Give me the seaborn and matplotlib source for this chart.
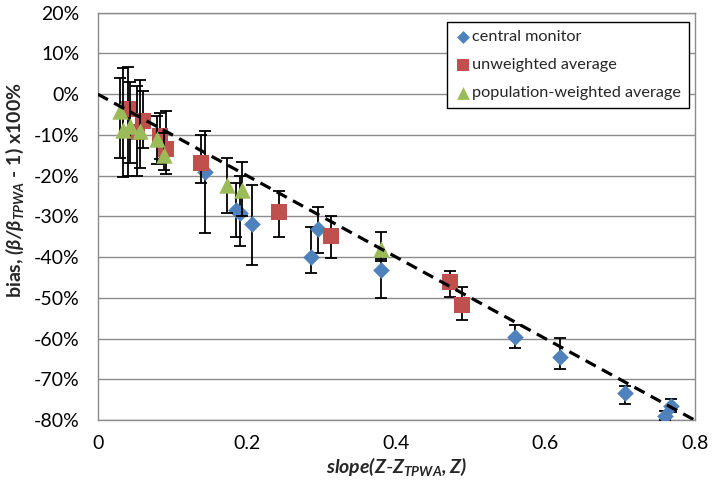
import matplotlib
matplotlib.use("Agg")
import matplotlib.pyplot as plt
import seaborn as sns
import pandas as pd
from matplotlib.ticker import FuncFormatter

# ---- data (percent bias vs slope) ----
series_names = ["central monitor", "unweighted average", "population-weighted average"]

x_cm = [0.144, 0.185, 0.190, 0.206, 0.286, 0.295, 0.379, 0.559, 0.620, 0.707, 0.768, 0.760]
y_cm = [-19.0, -28.4, -29.2, -31.8, -39.9, -33.1, -43.1, -59.5, -64.6, -73.4, -76.5, -78.9]
hi_cm = [-9.1, -21.7, -20.2, -22.2, -32.5, -27.6, -40.5, -56.6, -59.9, -71.5, -74.8, -77.8]
lo_cm = [-34.1, -35.1, -37.2, -41.9, -43.8, -39.0, -50.1, -62.4, -67.5, -76.0, -77.9, -80.0]

x_uw = [0.040, 0.060, 0.052, 0.083, 0.091, 0.138, 0.243, 0.312, 0.472, 0.488]
y_uw = [-3.6, -6.7, -9.3, -10.2, -13.5, -16.9, -28.8, -34.8, -46.0, -51.7]
hi_uw = [6.7, 0.7, 1.9, -4.5, -4.2, -10.0, -23.7, -30.0, -43.5, -47.2]
lo_uw = [-20.0, -13.2, -20.2, -16.0, -19.6, -21.7, -35.1, -40.2, -49.7, -55.4]

x_pw = [0.030, 0.034, 0.043, 0.057, 0.079, 0.089, 0.173, 0.193, 0.380]
y_pw = [-4.2, -8.7, -7.9, -9.1, -10.9, -14.9, -22.2, -23.6, -38.0]
hi_pw = [4.0, 6.4, 2.9, 3.5, -5.3, -9.5, -15.7, -16.7, -33.9]
lo_pw = [-15.7, -20.3, -16.9, -18.0, -17.1, -18.5, -29.2, -30.0, -41.0]

trend_x = [0.0, 0.8]
trend_y = [0.0, -80.0]

y_ticks = [20, 10, 0, -10, -20, -30, -40, -50, -60, -70, -80]
x_ticks = [0, 0.2, 0.4, 0.6, 0.8]
x_ticklabels = ["0", "0.2", "0.4", "0.6", "0.8"]

# ---- style ----
sns.set_theme(style="white")
plt.rcParams["font.family"] = ["Lato", "DejaVu Sans"]
plt.rcParams["mathtext.fontset"] = "custom"
plt.rcParams["mathtext.rm"] = "Lato:bold:italic"
plt.rcParams["mathtext.it"] = "Lato:bold:italic"
plt.rcParams["mathtext.bf"] = "Lato:bold"
plt.rcParams["mathtext.fallback"] = "stixsans"

colors = {"central monitor": "#4F81BD",
          "unweighted average": "#C0504D",
          "population-weighted average": "#9BBB59"}
markers = {"central monitor": "D",
           "unweighted average": "s",
           "population-weighted average": "^"}
sizes = {"central monitor": 72, "unweighted average": 120, "population-weighted average": 140}

frames = []
for name, xs, ys, his, los in [
        ("central monitor", x_cm, y_cm, hi_cm, lo_cm),
        ("unweighted average", x_uw, y_uw, hi_uw, lo_uw),
        ("population-weighted average", x_pw, y_pw, hi_pw, lo_pw)]:
    frames.append(pd.DataFrame({"x": xs, "y": ys, "hi": his, "lo": los, "series": name}))
df = pd.concat(frames, ignore_index=True)

fig = plt.figure(figsize=(7.14, 4.88), dpi=100)
ax = fig.add_axes([0.137, 0.139, 0.836, 0.835])

z = 3
for name in series_names:
    d = df[df.series == name]
    ax.errorbar(d["x"], d["y"],
                yerr=[d["y"] - d["lo"], d["hi"] - d["y"]],
                fmt="none", ecolor="black", elinewidth=1.3, capsize=4.5,
                capthick=1.3, zorder=z)
    sns.scatterplot(data=d, x="x", y="y", ax=ax, color=colors[name],
                    marker=markers[name], s=sizes[name], linewidth=0,
                    zorder=z + 1, legend=False)
    z += 2

ax.plot(trend_x, trend_y, color="black", linestyle=(0, (3.6, 2.2)), linewidth=2.3, zorder=20)

ax.set_xlim(0, 0.8)
ax.set_ylim(-80, 20)
ax.set_xticks(x_ticks)
ax.set_xticklabels(x_ticklabels)
ax.set_yticks(y_ticks)
ax.yaxis.set_major_formatter(FuncFormatter(lambda v, p: f"{int(round(v))}%"))

ax.yaxis.grid(True, color="#8C8C8C", linewidth=1.0)
ax.xaxis.grid(False)
for s in ax.spines.values():
    s.set_color("#8C8C8C")
    s.set_linewidth(1.0)
ax.tick_params(axis="both", which="major", direction="out", length=5, width=1,
               color="#8C8C8C", labelsize=14, labelcolor="black")
ax.tick_params(axis="y", pad=8)
ax.tick_params(axis="x", pad=6)

ax.set_xlabel(r"$slope(Z$-$Z_{TPWA},Z)$", fontsize=14, labelpad=2)
ax.set_ylabel(r"bias, $(\beta/\beta_{TPWA}$ - 1) x100%", fontsize=14,
              fontweight="bold")
ax.yaxis.set_label_coords(-0.121, 0.564)

handles = []
for name in series_names:
    h = ax.scatter([], [], color=colors[name], marker=markers[name],
                   s=sizes[name] * 0.6, linewidth=0)
    handles.append(h)
leg = ax.legend(handles, series_names, loc="upper right", bbox_to_anchor=(0.99, 0.977),
                borderaxespad=0, fontsize=11.7, frameon=True, fancybox=False,
                edgecolor="black", framealpha=1, handletextpad=0.1,
                handlelength=1.0, labelspacing=0.85, borderpad=0.46)
leg.get_frame().set_linewidth(1.0)
leg.set_zorder(30)

fig.savefig("out.png", dpi=100)
